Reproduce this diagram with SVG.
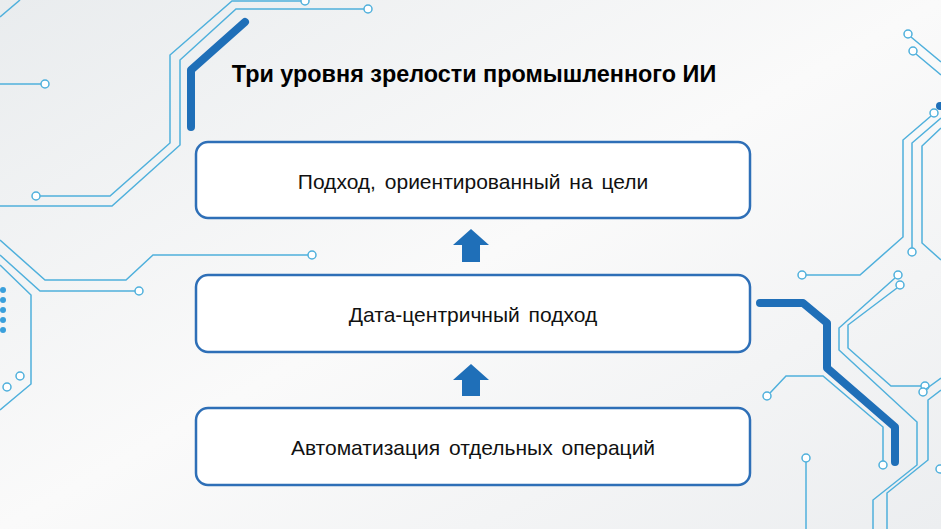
<svg xmlns="http://www.w3.org/2000/svg" width="941" height="529" viewBox="0 0 941 529">
<defs>
<linearGradient id="bg" x1="0" y1="0" x2="1" y2="1"><stop offset="0" stop-color="#e9ecee"/><stop offset="0.5" stop-color="#fafafa"/><stop offset="1" stop-color="#eceef0"/></linearGradient>
<style>
.t{fill:none;stroke:#4fb0dc;stroke-width:1.5}
.c{fill:#fff;stroke:#4fb0dc;stroke-width:1.5}
.k{fill:none;stroke:#1f6fb8;stroke-width:8;stroke-linecap:round;stroke-linejoin:round}
.box{fill:#fff;stroke:#2e6fb7;stroke-width:2.5}
.lbl{font-family:"Liberation Sans",Arial,sans-serif;font-size:21px;fill:#111;text-anchor:middle;word-spacing:3px}
.ar{fill:#1f6fb8}
</style>
</defs>
<rect width="941" height="529" fill="url(#bg)"/>
<g id="circuits">
<path class="t" d="M0,17 L20,0"/>
<path class="t" d="M302,1 H232 L170,55 V143 L110,196 H40"/>
<circle class="c" cx="305" cy="1" r="4"/><circle class="c" cx="36" cy="196" r="4"/>
<path class="t" d="M364,9 H236 L180,60 V145 L112,206 H0"/>
<circle class="c" cx="368" cy="9" r="4"/>
<path class="t" d="M0,84 H41"/><circle class="c" cx="45" cy="84" r="4"/>
<path class="k" d="M245,22 L191,70 V127"/>
<path class="t" d="M0,240 L45,280 H126 L153,255 H308"/><circle class="c" cx="312" cy="255" r="4"/>
<path class="t" d="M0,255 L40,291 H135"/><circle class="c" cx="139" cy="291" r="4"/>
<path class="t" d="M0,265 L31,295 V384 L0,410"/>
<g fill="#3aa0dc"><circle cx="3" cy="290" r="3"/><circle cx="3" cy="300" r="3"/><circle cx="3" cy="310" r="3"/><circle cx="3" cy="320" r="3"/><circle cx="3" cy="330" r="3"/></g>
<circle class="c" cx="20" cy="376" r="4"/><circle class="c" cx="7" cy="387" r="4"/>
<path class="t" d="M911,37 L941,62 M916,54 L941,75"/>
<circle class="c" cx="908" cy="34" r="4"/><circle class="c" cx="913" cy="51" r="4"/>
<circle cx="940" cy="106" r="4" fill="#1f6fb8"/>
<path class="t" d="M931,116 L903,140 V237 L860,275 H806"/>
<circle class="c" cx="934" cy="113" r="4"/><circle class="c" cx="802" cy="275" r="4"/>
<path class="t" d="M941,118 L912,143 V248"/><circle class="c" cx="912" cy="252" r="4"/>
<path class="t" d="M941,128 L922,146 V243 L941,260"/>
<path class="t" d="M895,278 L839,328 V350 L917,422 V465 L873,500 V529"/>
<path class="t" d="M897,288 L848,325 V348 L891,386 H921"/>
<circle class="c" cx="898" cy="275" r="4"/><circle class="c" cx="900" cy="285" r="4"/><circle class="c" cx="925" cy="386" r="4"/>
<path class="t" d="M926,389 L941,378 M941,390 L928,400 V460 L887,493 V529"/><circle class="c" cx="923" cy="392" r="4"/>
<path class="t" d="M770,393 L786,376 H823 L883,427 V461"/>
<circle class="c" cx="767" cy="396" r="4"/><circle class="c" cx="883" cy="465" r="4"/>
<path class="k" d="M760,303 H803 L827,323 V368 L895,427 V462"/>
<path class="t" d="M806,462 V529"/><circle class="c" cx="806" cy="458" r="4"/>
<circle class="c" cx="940" cy="469" r="4"/>
</g>
<text x="474" y="82" font-family="'Liberation Sans',Arial,sans-serif" font-size="23.4" font-weight="bold" text-anchor="middle" fill="#000">Три уровня зрелости промышленного ИИ</text>
<g id="n1"><rect class="box" x="196" y="142" width="554" height="76" rx="12"/><text class="lbl" x="473" y="189">Подход, ориентированный на цели</text></g>
<g id="n2"><rect class="box" x="196" y="275" width="554" height="77" rx="12"/><text class="lbl" x="473" y="322">Дата-центричный подход</text></g>
<g id="n3"><rect class="box" x="196" y="408" width="554" height="77" rx="12"/><text class="lbl" x="473" y="455">Автоматизация отдельных операций</text></g>
<g id="connectors">
<path class="ar" d="M471,229 L489,245 H480 V262 H462 V245 H453 Z"/>
<path class="ar" d="M471,364 L489,380 H480 V396 H462 V380 H453 Z"/>
</g>
</svg>
